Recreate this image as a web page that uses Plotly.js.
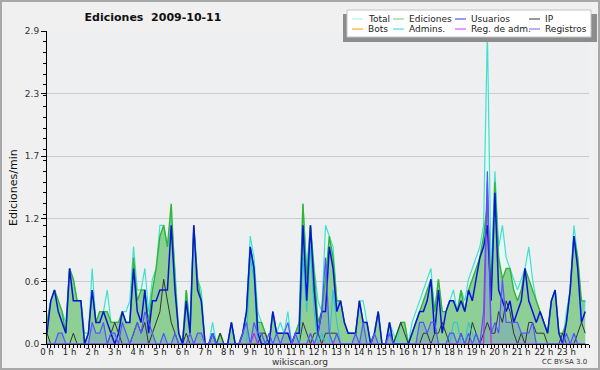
<!DOCTYPE html>
<html>
<head>
<meta charset="utf-8">
<script src="https://cdn.plot.ly/plotly-3.0.1.min.js"></script>
<style>
html,body{margin:0;padding:0;background:#f0f0f0;}
#wrap{position:relative;width:600px;height:370px;}
#chart{width:600px;height:370px;}
#frame{position:absolute;left:0;top:0;width:600px;height:370px;box-sizing:border-box;border:2px solid #a8a8a8;pointer-events:none;}
</style>
</head>
<body>
<div id="wrap"><div id="chart"></div><div id="frame"></div></div>
<script>
// ---- Data: values per 10-minute slot, 2009-10-11 (edits per minute) ----
const hourLabels = ["0 h","1 h","2 h","3 h","4 h","5 h","6 h","7 h","8 h","9 h","10 h","11 h",
  "12 h","13 h","14 h","15 h","16 h","17 h","18 h","19 h","20 h","21 h","22 h","23 h"];

const total = [
  0.2,0.4,0.5,0.4,0.3,0.2, 0.7,0.6,0.4,0.4,0.1,0.1, 0.7,0.2,0.3,0.3,0.5,0.2, 0.2,0.2,0.3,0.3,0.4,0.9,
  0.5,0.5,0.7,0.3,0.6,0.7, 1.1,1.1,0.9,1.2,0.7,0.1, 0,0.5,0.2,1.1,0.6,0.5, 0,0,0.2,0,0.1,0,
  0,0.2,0,0,0.1,0.3, 1.0,0.8,0.3,0.2,0.1,0, 0.3,0.1,0.2,0.1,0.3,0, 0.1,0.2,1.3,0.7,1.1,0.7,
  0.4,0.3,1.1,1.0,0.9,0.4, 0.4,0.2,0.1,0.1,0.1,0.4, 0.4,0.2,0,0.1,0.3,0, 0,0.2,0.1,0,0.2,0.2,
  0,0.2,0.3,0.4,0.5,0.6, 0.7,0.3,0.6,0.3,0.3,0.4, 0.5,0.3,0.5,0.4,0.6,0.7, 0.8,0.9,1.1,2.9,0.6,1.6,
  0.9,1.1,0.8,0.7,0.6,0.5, 0.6,0.7,0.9,0.6,0.4,0.3, 0.2,0.1,0.4,0.5,0.1,0, 0.3,0.5,1.1,0.8,0.3,0.4];

const ediciones = [
  0.2,0.4,0.5,0.4,0.3,0.1, 0.7,0.6,0.4,0.4,0,0.1, 0.5,0.2,0.3,0.3,0.3,0.2, 0.2,0.2,0.3,0.2,0.2,0.8,
  0.4,0.5,0.5,0.2,0.5,0.7, 1.0,1.1,0.9,1.3,0.6,0.1, 0,0.5,0.1,1.1,0.6,0.4, 0,0,0.1,0,0.1,0,
  0,0.2,0,0,0.1,0.3, 0.9,0.7,0.2,0.2,0.1,0, 0.3,0.1,0.1,0.1,0.1,0, 0.1,0.2,1.3,0.6,1.1,0.6,
  0.2,0.3,0.6,1.0,0.8,0.4, 0.4,0.2,0.1,0.1,0.1,0.4, 0.2,0.2,0,0.1,0.3,0, 0,0.2,0,0.1,0.2,0.2,
  0,0.1,0.2,0.3,0.4,0.5, 0.6,0.3,0.6,0.3,0.3,0.4, 0.4,0.3,0.5,0.3,0.5,0.6, 0.7,0.8,1.0,1.3,0.5,1.5,
  0.8,0.6,0.7,0.7,0.5,0.4, 0.5,0.7,0.6,0.5,0.4,0.3, 0.2,0.1,0.4,0.5,0.1,0.1, 0.2,0.5,1.0,0.8,0.4,0.4];

const usuarios = [
  0.1,0.4,0.5,0.3,0.2,0.1, 0.7,0.4,0.4,0.4,0,0.1, 0.5,0.2,0.2,0.3,0.2,0.1, 0,0.1,0.3,0.2,0.2,0.7,
  0.3,0.2,0.5,0.1,0.4,0.4, 0.5,0.5,0.5,1.1,0.5,0.1, 0,0.4,0.1,1.1,0.5,0.4, 0,0,0.1,0,0,0,
  0,0.2,0,0,0.1,0.3, 0.9,0.7,0.1,0,0,0, 0.3,0.1,0.1,0.1,0.1,0, 0.1,0.1,1.1,0.4,1.1,0.5,
  0.1,0.3,0.3,0.9,0.7,0.3, 0.4,0.2,0.1,0.1,0.1,0.4, 0.2,0.2,0,0.1,0.3,0, 0,0.2,0,0,0,0,
  0,0.1,0.2,0.3,0.3,0.4, 0.6,0.1,0.5,0.1,0.3,0.4, 0.4,0.3,0.4,0.3,0.5,0.4, 0.6,0.8,0.9,1.1,0.4,1.4,
  0.5,0.4,0.3,0.4,0.2,0.3, 0.4,0.7,0.4,0.3,0.2,0.3, 0.2,0.1,0.4,0.5,0.1,0, 0.2,0.5,1.0,0.7,0.2,0.3];

const ip = [
  0.1,0,0,0,0,0, 0,0.1,0,0,0,0, 0,0,0,0,0,0.1, 0.2,0.1,0,0,0,0.1,
  0.2,0.1,0.2,0,0.1,0.2, 0.3,0.6,0.4,0.2,0.1,0, 0,0.1,0,0,0,0, 0,0,0,0,0.1,0,
  0,0,0,0,0,0, 0,0,0,0.1,0.1,0, 0,0,0,0,0,0, 0,0,0.2,0.1,0,0.1,
  0.1,0,0.1,0.1,0.1,0.1, 0,0,0,0,0,0, 0,0,0,0,0,0, 0,0,0,0.1,0.2,0.1,
  0,0,0,0,0.1,0.1, 0,0.1,0.1,0.2,0.1,0, 0,0,0.1,0,0,0.2, 0.1,0,0.1,0.2,0.1,0.1,
  0.3,0.2,0.4,0.3,0.1,0, 0.1,0,0.2,0.2,0.1,0.1, 0.1,0,0,0,0,0.1, 0,0,0,0.1,0.2,0.1];

const bots = [
  0,0,0,0,0,0, 0,0,0,0,0,0, 0,0,0,0,0,0, 0,0,0,0,0,0,
  0,0,0,0,0,0, 0,0,0,0,0,0, 0,0,0,0,0,0, 0,0,0,0,0,0,
  0,0,0,0,0,0, 0,0,0,0,0,0, 0,0,0,0,0,0, 0,0,0,0,0,0,
  0,0,0,0,0,0, 0,0,0,0,0,0, 0,0,0,0,0,0, 0,0,0,0,0,0,
  0,0,0,0,0,0, 0,0,0,0,0,0, 0,0,0,0,0,0, 0,0,0,0,0,0,
  0,0,0,0,0,0, 0,0,0,0,0,0, 0,0,0,0,0,0, 0,0,0,0,0,0];

const admins = [
  0,0,0,0,0,0, 0,0,0,0,0,0, 0,0,0,0,0,0, 0,0,0,0,0,0,
  0,0,0,0,0,0, 0,0,0,0,0,0, 0,0,0,0,0,0, 0,0,0,0,0,0,
  0,0,0,0,0,0, 0.8,0.6,0,0,0,0, 0,0,0,0,0,0, 0,0,0.8,0.3,0.9,0.3,
  0,0.1,0,0,0.5,0.2, 0,0,0,0,0,0, 0,0,0,0,0,0, 0,0,0,0,0,0,
  0,0,0,0,0,0, 0,0,0,0,0,0, 0.2,0.2,0,0,0.2,0.1, 0,0,0,0,0,0,
  0,0,0,0,0,0, 0,0,0,0,0,0, 0,0,0,0,0,0, 0,0,0,0,0,0];

const regAdm = [
  0,0,0,0,0,0, 0,0,0,0,0,0, 0,0,0,0,0,0, 0,0,0,0,0,0,
  0,0,0,0,0,0, 0,0,0,0,0,0, 0,0,0,0,0,0, 0,0,0,0,0,0,
  0,0,0,0,0,0, 0,0.1,0,0,0,0, 0,0,0,0,0,0, 0,0,0,0,0,0,
  0,0,0,0,0,0, 0,0,0,0,0,0, 0,0,0,0,0,0, 0,0,0,0,0,0,
  0,0,0,0,0,0, 0,0,0,0,0,0, 0,0,0,0,0,0, 0,0,0,1.5,0,0,
  0,0,0,0,0,0, 0,0,0,0,0,0, 0,0,0,0,0,0, 0,0,0,0,0,0];

const registros = [
  0,0,0,0.1,0.1,0, 0,0,0,0,0,0, 0.2,0.1,0.1,0.2,0,0.1, 0.1,0,0.2,0.1,0,0.1,
  0.2,0.1,0.3,0.2,0.1,0, 0,0.1,0,0,0.1,0, 0,0,0.1,0,0.1,0.1, 0,0,0.1,0,0,0,
  0,0,0,0,0.1,0.2, 0,0.2,0.1,0.1,0,0.1, 0,0.1,0,0.1,0.2,0, 0.1,0,0,0,0.1,0,
  0.1,0.3,0.8,0.1,0,0.1, 0,0,0,0,0.1,0, 0.2,0,0,0.1,0,0, 0,0.1,0,0,0,0,
  0,0,0,0.2,0.2,0.1, 0.2,0.2,0,0,0,0.1, 0.1,0,0.1,0,0.1,0, 0.1,0,0.3,1.6,0.1,0.2,
  0.1,0.6,0.2,0.2,0.2,0.2, 0.1,0.1,0.1,0.2,0,0, 0,0,0,0,0,0, 0.1,0,0.1,0,0,0];

const yTickVals = [0, 0.58, 1.16, 1.74, 2.32, 2.9];
const yTickText = ["0.0", "0.6", "1.2", "1.7", "2.3", "2.9"];

// time of each 10-minute slot, in hours
const slotHours = total.map((_, i) => i / 6);
const hourTicks = hourLabels.map((_, h) => h);

// ---- geometry helpers (pixel -> paper) ----
const L = 47, R = 589, T = 31, B = 344;
const W = R - L, H = B - T;
const px = x => (x - L) / W;
const py = y => (B - y) / H;

const FONT = "DejaVu Sans, Verdana, sans-serif";

function fillTrace(y, color) {
  return {x: slotHours, y: y, type: 'scatter', mode: 'lines', fill: 'tozeroy',
    fillcolor: color, line: {width: 0}, hoverinfo: 'skip', showlegend: false};
}
function lineTrace(name, y, color, width) {
  return {x: slotHours, y: y, name: name, type: 'scatter', mode: 'lines',
    line: {color: color, width: width}, showlegend: false};
}

const traces = [
  fillTrace(total, 'rgba(225,255,252,0.55)'),
  fillTrace(ediciones, 'rgba(52,165,52,0.5)'),
  fillTrace(registros, 'rgba(90,90,255,0.18)'),
  lineTrace('Bots', bots, '#ff9900', 1),
  lineTrace('Total', total, '#40e0d0', 1.2),
  lineTrace('Ediciones', ediciones, '#33b533', 1.4),
  lineTrace('IP', ip, '#333333', 1),
  lineTrace('Admins.', admins, '#22c4e0', 1),
  lineTrace('Reg. de adm.', regAdm, '#cc22ee', 1.2),
  lineTrace('Usuarios', usuarios, '#0a14d8', 1.5),
  lineTrace('Registros', registros, '#5555ff', 1.2)
];

// ---- manual legend ----
const legendItems = [
  {name: 'Total', color: '#a6eeee', lx: 352, y: 19},
  {name: 'Ediciones', color: '#6fcc6f', lx: 393, y: 19},
  {name: 'Usuarios', color: '#3333ff', lx: 455, y: 19},
  {name: 'IP', color: '#333333', lx: 529, y: 19},
  {name: 'Bots', color: '#ff9900', lx: 352, y: 29},
  {name: 'Admins.', color: '#33ccee', lx: 393, y: 29},
  {name: 'Reg. de adm.', color: '#dd33ff', lx: 455, y: 29},
  {name: 'Registros', color: '#6666ff', lx: 529, y: 29}
];

const shapes = [
  {type: 'rect', xref: 'paper', yref: 'paper', x0: px(343), x1: px(597), y0: py(42), y1: py(14),
   fillcolor: '#8c8c8c', line: {width: 0}, layer: 'above'},
  {type: 'rect', xref: 'paper', yref: 'paper', x0: px(347), x1: px(591), y0: py(37), y1: py(10),
   fillcolor: '#ffffff', line: {color: '#c4c4c4', width: 1}, layer: 'above'}
];
const annotations = [];
legendItems.forEach(it => {
  shapes.push({type: 'line', xref: 'paper', yref: 'paper', x0: px(it.lx), x1: px(it.lx + 11),
    y0: py(it.y), y1: py(it.y), line: {color: it.color, width: 1}, layer: 'above'});
  annotations.push({xref: 'paper', yref: 'paper', x: px(it.lx + 14), y: py(it.y), text: it.name,
    showarrow: false, xanchor: 'left', yanchor: 'middle', font: {family: FONT, size: 9, color: '#222'}});
});

annotations.push({xref: 'paper', yref: 'paper', x: px(13), y: py(188), text: 'Ediciones/min',
  textangle: -90, showarrow: false, xanchor: 'center', yanchor: 'middle',
  font: {family: FONT, size: 11, color: '#111'}});
annotations.push({xref: 'paper', yref: 'paper', x: px(300), y: py(362), text: 'wikiscan.org',
  showarrow: false, xanchor: 'center', yanchor: 'middle', font: {family: FONT, size: 9, color: '#333'}});
annotations.push({xref: 'paper', yref: 'paper', x: px(589), y: py(362), text: 'CC BY-SA 3.0',
  showarrow: false, xanchor: 'right', yanchor: 'middle', font: {family: FONT, size: 7, color: '#333'}});

const layout = {
  width: 600, height: 370,
  margin: {l: L, r: 600 - R, t: T, b: 370 - B, pad: 0},
  paper_bgcolor: '#f0f0f0',
  plot_bgcolor: '#eeeff1',
  showlegend: false,
  hovermode: false,
  title: {text: 'Ediciones\u00a0 2009-10-11', xref: 'container', yref: 'container',
    x: 153 / 600, y: 1 - 17 / 370, xanchor: 'center', yanchor: 'middle',
    font: {family: FONT, size: 11, color: '#111', weight: 'bold'}},
  xaxis: {
    range: [0, 24], tickvals: hourTicks, ticktext: hourLabels,
    showgrid: false, zeroline: false, showline: true, linecolor: '#000', linewidth: 1,
    ticks: 'outside', ticklen: 3, tickcolor: '#000', ticklabelstandoff: -3,
    tickfont: {family: FONT, size: 8.5, color: '#222'},
    minor: {tick0: 0, dtick: 1 / 6, ticks: 'outside', ticklen: 3, tickcolor: '#000', showgrid: false},
    fixedrange: true
  },
  yaxis: {
    range: [0, 2.9], tickvals: yTickVals, ticktext: yTickText,
    showgrid: true, gridcolor: '#cbcbcb', gridwidth: 1, zeroline: false,
    showline: true, linecolor: '#000', linewidth: 1,
    ticks: 'outside', ticklen: 5, tickcolor: '#000',
    tickfont: {family: FONT, size: 9, color: '#333'},
    minor: {tick0: 0, dtick: 0.1, ticks: 'outside', ticklen: 3, tickcolor: '#000', showgrid: false},
    fixedrange: true
  },
  shapes: shapes,
  annotations: annotations
};

Plotly.newPlot('chart', traces, layout, {staticPlot: true, displayModeBar: false});
</script>
</body>
</html>
